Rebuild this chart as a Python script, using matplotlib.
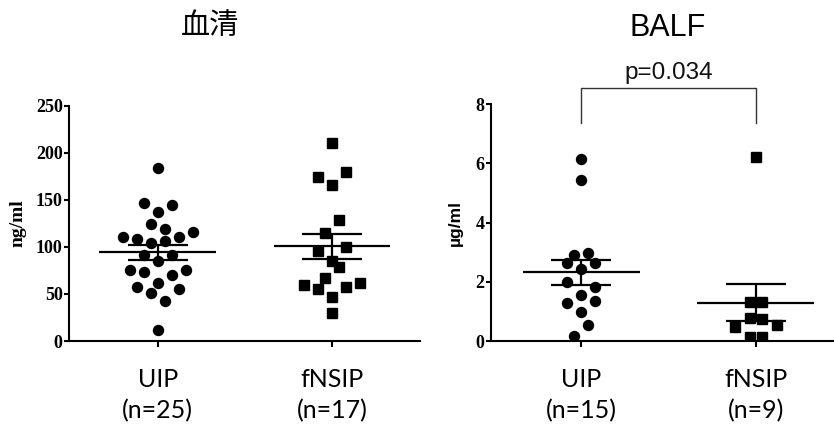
import numpy as np
import matplotlib
matplotlib.use("Agg")
import matplotlib.pyplot as plt

# values
serum_uip = [184, 147, 145, 137, 124, 119, 111, 116, 108, 111, 104, 106, 91,
             91, 85, 75, 73, 75, 70, 62, 57, 55, 51, 43, 12]
serum_uip_slot = [0, -2, 2, 0, -1, 1, -5, 5, -3, 3, -1, 1, -2,
                  2, 0, -4, -2, 4, 2, 0, -3, 3, -1, 1, 0]
serum_fnsip = [210.6, 179.8, 173.8, 165.6, 129, 114.9, 100, 95.4, 84.8,
               78.7, 67, 62, 60, 57.4, 55, 46.8, 29.8]
serum_fnsip_slot = [0, 2, -2, 0, 1, -1, 2, -2, 0, 1, -1, 4, -4, 2, -2, 0, 0]

balf_uip = [6.14, 5.43, 2.98, 2.9, 2.62, 2.62, 2.42, 2.0, 1.83, 1.57, 1.36,
            1.27, 0.99, 0.54, 0.17]
balf_uip_slot = [0, 0, 1, -1, -2, 2, 0, -2, 2, 0, 2, -2, 0, 1, -1]
balf_fnsip = [6.22, 1.33, 1.31, 0.78, 0.76, 0.53, 0.48, 0.14, 0.12]
balf_fnsip_slot = [0, 0.85, -0.85, -0.85, 0.85, 3, -3, -0.85, 0.85]

serum_ticks = [0, 50, 100, 150, 200, 250]
balf_ticks = [0, 2, 4, 6, 8]
serum_labels = ["UIP\n(n=25)", "fNSIP\n(n=17)"]
balf_labels = ["UIP\n(n=15)", "fNSIP\n(n=9)"]
p_text = "p=0.034"

SLOT = 0.04
SERIF = "Liberation Serif"
SANS = "Lato"


def column(ax, x0, vals, slots, marker, ms):
    vals = np.asarray(vals, dtype=float)
    xs = x0 + np.asarray(slots, dtype=float) * SLOT
    ax.plot(xs, vals, ls="none", marker=marker, ms=ms, color="black",
            mec="black", zorder=2)
    m = vals.mean()
    sem = vals.std(ddof=1) / np.sqrt(len(vals))
    kw = dict(color="black", lw=1.6, zorder=3, solid_capstyle="butt")
    ax.plot([x0 - 0.335, x0 + 0.335], [m, m], **kw)
    ax.plot([x0 - 0.172, x0 + 0.172], [m + sem, m + sem], **kw)
    ax.plot([x0 - 0.172, x0 + 0.172], [m - sem, m - sem], **kw)
    ax.plot([x0, x0], [m - sem, m + sem], **kw)


def style(ax, labels, yticks, ylabel, yfont):
    for s in ["top", "right"]:
        ax.spines[s].set_visible(False)
    for s in ["left", "bottom"]:
        ax.spines[s].set_linewidth(1.5)
    ax.set_xticks([0, 1], labels=labels, fontfamily=SANS, fontsize=18,
                  linespacing=1.4)
    ax.set_yticks(yticks, labels=[str(t) for t in yticks], fontfamily=SERIF,
                  fontweight="bold", fontsize=13)
    ax.tick_params(axis="x", direction="out", length=4.5, width=1.5, pad=15)
    ax.tick_params(axis="y", direction="out", length=3.5, width=1.5, pad=1)
    ax.set_ylabel(ylabel, **yfont)


fig = plt.figure(figsize=(8.34, 4.32), dpi=100)

ax1 = fig.add_axes([0.0827, 0.2106, 0.4209, 0.5447])
column(ax1, 0, serum_uip, serum_uip_slot, "o", 7.2)
column(ax1, 1, serum_fnsip, serum_fnsip_slot, "s", 7.6)
ax1.set_xlim(-0.51, 1.505)
ax1.set_ylim(0, 250)
style(ax1, serum_labels, serum_ticks, "ng/ml",
      dict(fontfamily=SERIF, fontweight="bold", fontsize=14, labelpad=7))

ax2 = fig.add_axes([0.5887, 0.2106, 0.4113, 0.5486])
column(ax2, 0, balf_uip, balf_uip_slot, "o", 7.2)
column(ax2, 1, balf_fnsip, balf_fnsip_slot, "s", 7.6)
ax2.set_xlim(-0.517, 1.447)
ax2.set_ylim(0, 8)
style(ax2, balf_labels, balf_ticks, "\u00b5g/ml",
      dict(fontfamily="Liberation Sans", fontweight="bold", fontsize=12.5, labelpad=9))

# significance bracket
ax2.plot([0, 0, 1, 1], [7.35, 8.54, 8.54, 7.35], color="#333333", lw=1.0,
         clip_on=False)
ax2.text(0.5, 9.05, p_text, ha="center", va="center", fontsize=17.5,
         fontfamily="Liberation Sans", color="#111111", clip_on=False)

fig.text(0.2518, 0.94, "血清", ha="center", va="center", fontsize=21,
         fontfamily=["Noto Sans CJK JP", "DejaVu Sans"])
fig.text(0.80, 0.936, "BALF", ha="center", va="center", fontsize=22,
         fontfamily="Liberation Sans")

fig.savefig("out.png", dpi=100)
